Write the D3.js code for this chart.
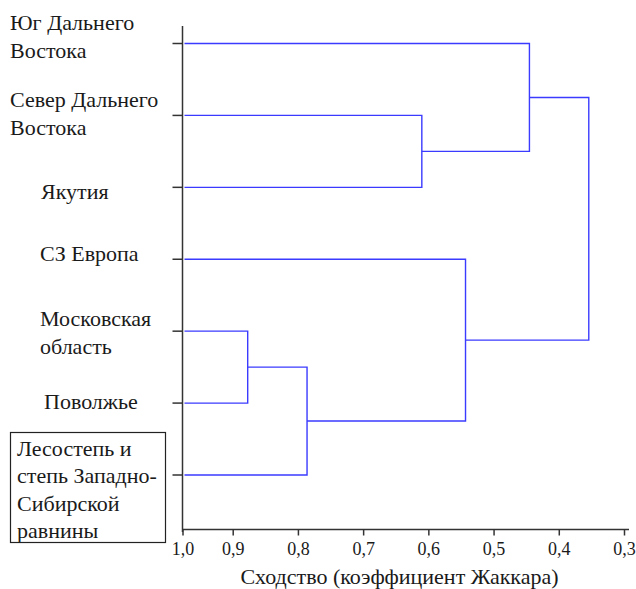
<!DOCTYPE html>
<html>
<head>
<meta charset="utf-8">
<script src="https://cdn.jsdelivr.net/npm/d3@7"></script>
<style>
  body { margin: 0; background: #fff; font-family: 'Liberation Serif'; }
</style>
</head>
<body>
<div id="chart"></div>
<script>
// leaves from top to bottom, label lines
const leaves = [
  ["Юг Дальнего", "Востока"],
  ["Север Дальнего", "Востока"],
  ["Якутия"],
  ["СЗ Европа"],
  ["Московская", "область"],
  ["Поволжье"],
  ["Лесостепь и", "степь Западно-", "Сибирской", "равнины"]
];
// merges: [child a, child b, similarity]; new cluster ids start at leaves.length
const merges = [
  [1, 2, 0.61],
  [4, 5, 0.877],
  [8, 6, 0.786],
  [0, 7, 0.445],
  [3, 9, 0.543],
  [10, 11, 0.354]
];
const ticks = [1.0, 0.9, 0.8, 0.7, 0.6, 0.5, 0.4, 0.3];
const xTitle = "Сходство (коэффициент Жаккара)";

// label placement (layout only): left edge, first line offset from leaf
const labelX = [10, 10, 41, 40, 40, 44, 17];
const labelDy = [-21, -16, 4, -6, -13, -2, -27];

const fontName = "Liberation Serif";
const width = 636, height = 589;
const svg = d3.select("#chart").append("svg")
  .attr("width", width).attr("height", height)
  .attr("font-family", fontName)
  .style("font-family", `'${fontName}'`);

// the 1,0 tick sits at the axis origin, the rest are evenly spaced
const x = d3.scaleLinear().domain([1.0, 0.9, 0.3]).range([182.5, 232.7, 624]);
const y = d3.scalePoint().domain(d3.range(leaves.length)).range([43.5, 475]);

const fmt = d3.formatLocale({ decimal: ",", thousands: " ", grouping: [3], currency: ["", ""] }).format(".1f");

// node positions
const nodes = leaves.map((d, i) => ({ x: x(1.0) + 2, y: y(i) }));
merges.forEach(([a, b, s]) => {
  nodes.push({ x: x(s), y: (nodes[a].y + nodes[b].y) / 2 });
});

// axes
const axisColor = "#333";
svg.append("line")
  .attr("x1", x(1.0)).attr("x2", x(1.0))
  .attr("y1", 26).attr("y2", 532)
  .attr("stroke", axisColor).attr("stroke-width", 1.5);
svg.append("line")
  .attr("x1", x(1.0)).attr("x2", 629)
  .attr("y1", 529.5).attr("y2", 529.5)
  .attr("stroke", axisColor).attr("stroke-width", 1.5);

svg.append("g").selectAll("line")
  .data(leaves)
  .enter().append("line")
  .attr("x1", x(1.0) - 10).attr("x2", x(1.0))
  .attr("y1", (d, i) => y(i)).attr("y2", (d, i) => y(i))
  .attr("stroke", axisColor).attr("stroke-width", 1.5);

const xAxis = svg.append("g")
  .attr("transform", "translate(0,529.5)")
  .call(d3.axisBottom(x).tickValues(ticks).tickFormat(fmt).tickSize(6).tickSizeOuter(0))
  .attr("font-family", fontName)
  .attr("font-size", 18);
xAxis.select(".domain").remove();
xAxis.selectAll(".tick line").attr("stroke", axisColor).attr("stroke-width", 1.5);
xAxis.selectAll(".tick text")
  .attr("y", 13)
  .attr("fill", "#1a1a1a")
  .attr("font-family", fontName)
  .style("font-family", `'${fontName}'`)
  .style("font-size", "18px");

svg.append("text")
  .attr("x", (236 + 563) / 2).attr("y", 584)
  .attr("text-anchor", "middle")
  .attr("fill", "#1a1a1a")
  .attr("font-family", fontName)
  .style("font-family", `'${fontName}'`)
  .style("font-size", "22px")
  .text(xTitle);

// dendrogram links
const blue = "#3b3bff";
const linkG = svg.append("g")
  .attr("fill", "none").attr("stroke", blue).attr("stroke-width", 1.4);
merges.forEach(([a, b, s], k) => {
  const p = nodes[leaves.length + k];
  const A = nodes[a], B = nodes[b];
  linkG.append("path")
    .attr("d", `M${A.x},${A.y}H${p.x}V${B.y}H${B.x}`);
});

// labels
const labelG = svg.append("g");
leaves.forEach((lines, i) => {
  const lineH = i === 6 ? 27.5 : 28;
  const top = y(i) + labelDy[i];
  const t = labelG.append("text")
    .attr("fill", "#1a1a1a")
    .attr("font-family", fontName)
    .style("font-family", `'${fontName}'`)
    .style("font-size", "22px");
  lines.forEach((ln, j) => {
    t.append("tspan")
      .attr("x", labelX[i])
      .attr("y", top + j * lineH)
      .attr("dy", "0.35em")
      .text(ln);
  });
});

// box round the last label
svg.append("rect")
  .attr("x", 10.5).attr("y", 432.5)
  .attr("width", 155).attr("height", 110)
  .attr("fill", "none").attr("stroke", "#222").attr("stroke-width", 1.2);
</script>
</body>
</html>
